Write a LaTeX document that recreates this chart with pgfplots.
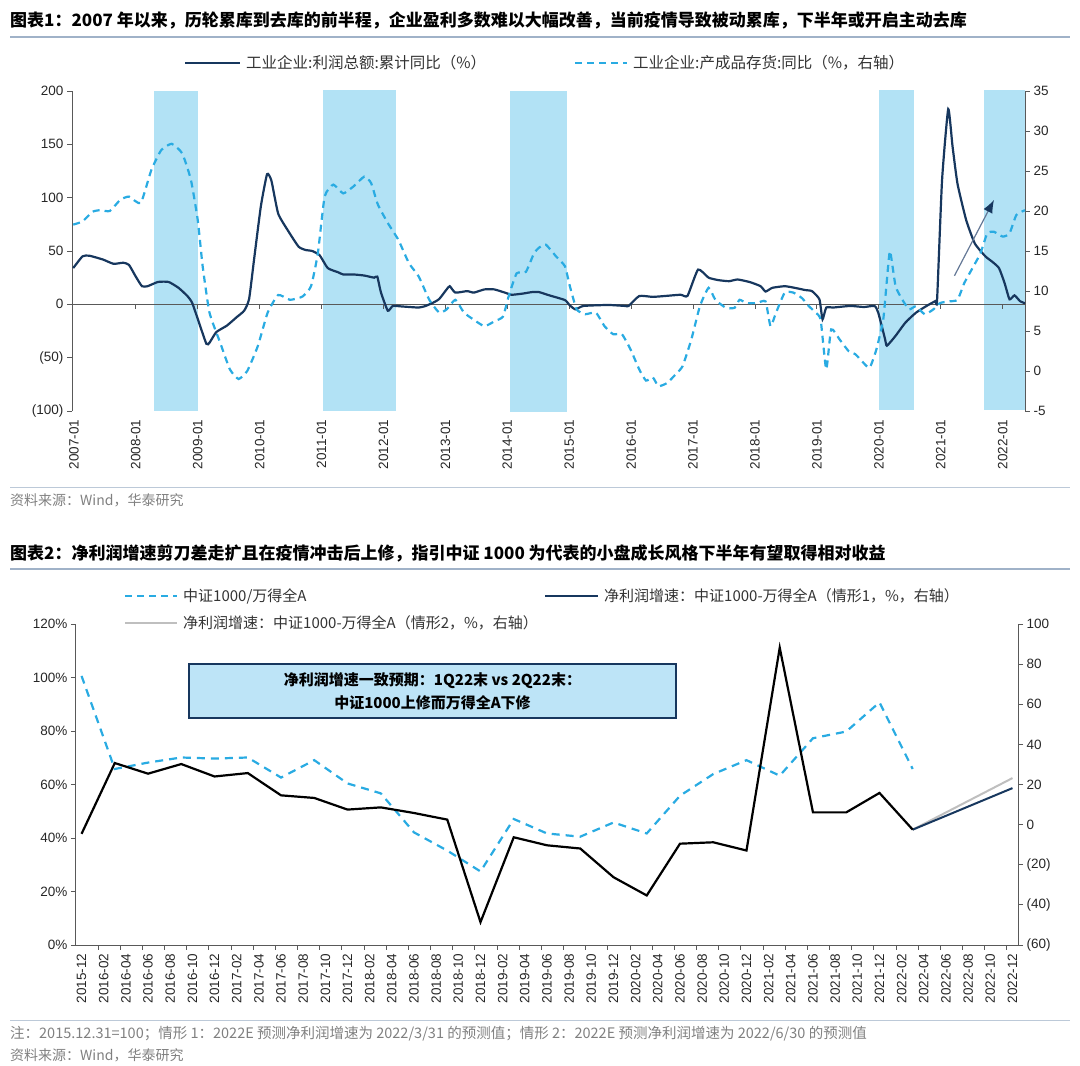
\documentclass[border=0pt]{standalone}
\usepackage{pgfplots}
\pgfplotsset{compat=1.18}
\usepackage{fontspec}
\setmainfont{Liberation Sans}
\newfontfamily\cjk{Noto Sans CJK SC}
\usetikzlibrary{arrows.meta}
\definecolor{navy}{RGB}{23,55,94}
\definecolor{cyanl}{RGB}{41,171,226}
\definecolor{band}{RGB}{178,226,245}
\definecolor{axgray}{RGB}{89,89,89}
\definecolor{rulec}{RGB}{160,178,200}
\definecolor{srcgray}{RGB}{128,128,128}
\definecolor{boxfill}{RGB}{189,228,247}
\definecolor{proj2}{RGB}{191,191,191}
\pgfplotsset{
  base/.style={scale only axis, no markers,
    axis line style={axgray, line width=1pt},
    tick style={axgray, line width=1pt},
    major tick length=5pt, tick align=outside,
    ticklabel style={font=\fontsize{13.5}{16}\selectfont, text=black!85},
  }
}
\pgfplotstableread{
x y
2006.99 34
2007.14 45
2007.25 45.6
2007.47 42
2007.64 38
2007.80 39
2007.89 37
2008.00 26
2008.10 17
2008.19 17
2008.36 21
2008.53 21
2008.69 15.5
2008.83 8
2008.91 1.5
2009.02 -17
2009.14 -37
2009.19 -36
2009.30 -26
2009.47 -20
2009.63 -12
2009.75 -6
2009.83 5
2009.91 42
2010.02 92
2010.12 122
2010.19 116
2010.30 85
2010.47 68
2010.63 54
2010.74 51
2010.85 50
2010.97 46
2011.10 34
2011.27 30
2011.35 28
2011.52 28
2011.69 27
2011.85 25
2011.90 26
2011.96 11
2012.07 -6
2012.15 -1.5
2012.30 -2
2012.57 -3
2012.68 -1.5
2012.80 1.5
2012.90 5
2013.02 14
2013.07 17
2013.16 11
2013.35 12.4
2013.46 11
2013.63 14
2013.79 14
2013.96 11
2014.07 9
2014.24 10
2014.40 11.5
2014.51 11.5
2014.68 8.4
2014.93 4
2015.01 -1
2015.10 -4.7
2015.23 -1.5
2015.63 -0.6
2015.90 -1.5
2015.96 -1.5
2016.13 7.8
2016.35 7
2016.58 8
2016.80 9
2016.91 8
2017.08 32.6
2017.25 25
2017.41 22.7
2017.58 21.7
2017.72 23.3
2017.92 20.8
2018.09 17
2018.17 12
2018.28 15.5
2018.48 17
2018.64 15.5
2018.81 13.4
2018.92 12.4
2019.04 4.7
2019.09 -14
2019.15 -3
2019.26 -3
2019.54 -1.5
2019.76 -2.5
2019.93 -1.5
2019.99 -7.8
2020.10 -32.6
2020.13 -38.8
2020.27 -29.5
2020.43 -17
2020.60 -7.8
2020.77 -1.5
2020.91 3
2020.94 4
2021.02 116
2021.12 183
2021.19 148
2021.27 113
2021.41 79
2021.55 57
2021.72 45
2021.83 40
2021.94 34
2022.03 20
2022.11 4.7
2022.19 8.4
2022.28 3
2022.36 1
}\profit
\pgfplotstableread{
x y
2006.99 18.3
2007.14 18.7
2007.30 19.9
2007.42 20.1
2007.58 20.0
2007.75 21.4
2007.89 21.8
2008.08 21.0
2008.25 25.1
2008.41 27.6
2008.58 28.4
2008.75 27.2
2008.89 23.9
2009.00 18.9
2009.08 13.1
2009.19 7.3
2009.36 3.6
2009.52 0.2
2009.66 -1.0
2009.80 0.0
2009.97 3.1
2010.13 7.3
2010.30 9.5
2010.49 8.9
2010.69 9.3
2010.83 10.6
2010.94 14.7
2011.05 21.8
2011.19 23.3
2011.35 22.2
2011.52 23.1
2011.69 24.3
2011.80 23.5
2011.91 20.8
2012.07 18.5
2012.24 16.4
2012.41 13.5
2012.57 11.8
2012.74 8.9
2012.90 7.3
2013.02 7.7
2013.16 8.9
2013.30 7.3
2013.46 6.4
2013.63 5.6
2013.79 6.2
2013.93 6.8
2014.02 9.3
2014.15 12.2
2014.30 12.4
2014.43 14.7
2014.51 15.4
2014.62 15.8
2014.79 14.3
2014.93 13.1
2015.01 10.6
2015.12 7.7
2015.26 7.1
2015.43 7.3
2015.57 5.6
2015.71 4.6
2015.85 4.6
2015.99 2.7
2016.13 0.2
2016.24 -1.2
2016.35 -0.8
2016.44 -1.9
2016.58 -1.5
2016.72 -0.4
2016.83 0.6
2016.97 3.9
2017.11 8.1
2017.25 10.4
2017.36 8.9
2017.53 7.9
2017.67 7.9
2017.75 8.9
2017.86 8.5
2018.03 8.5
2018.17 8.7
2018.25 5.6
2018.34 7.3
2018.48 9.8
2018.62 9.8
2018.76 9.1
2018.87 8.1
2018.98 7.3
2019.06 6.4
2019.15 0.2
2019.23 5.2
2019.37 3.9
2019.51 2.5
2019.62 2.1
2019.73 1.2
2019.85 0.4
2019.96 2.7
2020.07 6.4
2020.13 11.4
2020.18 15.0
2020.27 10.6
2020.38 8.9
2020.49 7.7
2020.60 8.1
2020.74 7.1
2020.88 7.7
2020.99 8.5
2021.13 8.7
2021.27 8.9
2021.38 11.0
2021.50 12.7
2021.64 14.7
2021.75 17.2
2021.86 17.4
2022.00 16.8
2022.11 17.2
2022.22 19.5
2022.36 20.1
}\inventory
\pgfplotstableread{
x y
0 100.6
3 65.8
6 68.2
9 70.1
12 69.7
15 70.1
18 62.6
21 69.1
24 60.4
27 56.7
30 42.1
33 35.3
36 27.5
39 47.1
42 41.7
45 40.5
48 45.8
51 41.7
54 55.8
57 63.9
60 69.1
63 63.3
66 77.3
69 79.8
72 90.7
75 65.8
}\ratio
\pgfplotstableread{
x y
0 -4.6
3 30.7
6 25.4
9 30.2
12 24.0
15 25.7
18 14.6
21 13.3
24 7.5
27 8.6
30 5.8
33 2.5
36 -48.6
39 -6.3
42 -10.3
45 -11.9
48 -26.2
51 -35.3
54 -9.5
57 -8.8
60 -12.9
63 88.2
66 6.1
69 6.1
72 15.8
75 -2.5
}\spread
\begin{document}
\begin{tikzpicture}
\path[use as bounding box] (0pt,0pt) rectangle (1080pt,-1066pt);
% ---------- Chart 1 texts ----------
\node[anchor=west, inner sep=0] at (10pt,-20pt) {\cjk\bfseries\fontsize{17}{20}\selectfont 图表1：2007 年以来，历轮累库到去库的前半程，企业盈利多数难以大幅改善，当前疫情导致被动累库，下半年或开启主动去库};
\draw[rulec, line width=1.3pt] (10pt,-37pt) -- (1070pt,-37pt);
\draw[navy, line width=2.5pt] (185pt,-63pt) -- (240pt,-63pt);
\node[anchor=west, inner sep=0, text=black!80] at (246pt,-63pt) {\cjk\fontsize{15.5}{18}\selectfont 工业企业:利润总额:累计同比（\%）};
\draw[cyanl, line width=2.5pt, dash pattern=on 7pt off 5pt] (575pt,-63pt) -- (627pt,-63pt);
\node[anchor=west, inner sep=0, text=black!80] at (633pt,-63pt) {\cjk\fontsize{15.5}{18}\selectfont 工业企业:产成品存货:同比（\%，右轴）};
\draw[rulec!70, line width=1pt] (10pt,-487pt) -- (1070pt,-487pt);
\node[anchor=west, inner sep=0, text=srcgray] at (10pt,-500pt) {\cjk\fontsize{14}{16}\selectfont 资料来源：Wind，华泰研究};
% ---------- Chart 1 left axis ----------
\begin{axis}[base, at={(72pt,-411pt)}, anchor=south west, width=953pt, height=320pt,
  xmin=2006.97, xmax=2022.36, ymin=-100, ymax=200, clip=false,
  axis y line*=left, axis x line*=bottom, x axis line style={draw=none},
  xtick={2007,2008,2009,2010,2011,2012,2013,2014,2015,2016,2017,2018,2019,2020,2021,2022},
  xticklabels={2007-01,2008-01,2009-01,2010-01,2011-01,2012-01,2013-01,2014-01,2015-01,2016-01,2017-01,2018-01,2019-01,2020-01,2021-01,2022-01},
  xtick style={draw=none},
  xticklabel style={rotate=90, anchor=east},
  ytick={-100,-50,0,50,100,150,200},
  yticklabels={(100),(50),0,50,100,150,200}]
\addplot[fill=band, draw=none] coordinates {(2008.29,-100) (2008.29,200) (2009.01,200) (2009.01,-100)};
\addplot[fill=band, draw=none] coordinates {(2011.02,-100) (2011.02,201) (2012.20,201) (2012.20,-100)};
\addplot[fill=band, draw=none] coordinates {(2014.05,-101) (2014.05,200) (2014.97,200) (2014.97,-101)};
\addplot[fill=band, draw=none] coordinates {(2020.00,-99) (2020.00,201) (2020.56,201) (2020.56,-99)};
\addplot[fill=band, draw=none] coordinates {(2021.69,-99) (2021.69,201) (2022.36,201) (2022.36,-99)};
\draw[axgray, line width=1pt] (axis cs:2006.97,0) -- (axis cs:2022.36,0);
\pgfplotsinvokeforeach{2008,2009,2010,2011,2012,2013,2014,2015,2016,2017,2018,2019,2020,2021,2022}{
  \draw[axgray, line width=1pt] (axis cs:#1,0) -- ++(0pt,-5pt);
}
\addplot[navy, line width=2.2pt, smooth, tension=0.3] table[x=x,y=y] {\profit};
\end{axis}
% ---------- Chart 1 right axis ----------
\begin{axis}[base, at={(72pt,-411pt)}, anchor=south west, width=953pt, height=320pt,
  xmin=2006.97, xmax=2022.36, ymin=-5, ymax=35, clip=false,
  axis y line*=right, axis x line=none,
  ytick={-5,0,5,10,15,20,25,30,35},
  yticklabels={-5,0,5,10,15,20,25,30,35}]
\addplot[cyanl, line width=2.2pt, dash pattern=on 7pt off 5pt, smooth, tension=0.3] table[x=x,y=y] {\inventory};
\draw[line width=1.2pt, color={rgb,255:red,100;green,120;blue,150}, -{Latex[length=13pt,width=10pt,color=navy]}] (axis cs:2021.22,11.9) -- (axis cs:2021.86,21.4);
\end{axis}
% ---------- Chart 2 texts ----------
\node[anchor=west, inner sep=0] at (10pt,-553pt) {\cjk\bfseries\fontsize{17}{20}\selectfont 图表2：净利润增速剪刀差走扩且在疫情冲击后上修，指引中证 1000 为代表的小盘成长风格下半年有望取得相对收益};
\draw[rulec, line width=1.3pt] (10pt,-569pt) -- (1070pt,-569pt);
\draw[cyanl, line width=2.5pt, dash pattern=on 7pt off 5pt] (125pt,-596pt) -- (177pt,-596pt);
\node[anchor=west, inner sep=0, text=black!80] at (183pt,-596pt) {\cjk\fontsize{15}{18}\selectfont 中证1000/万得全A};
\draw[navy, line width=2.5pt] (545pt,-596pt) -- (598pt,-596pt);
\node[anchor=west, inner sep=0, text=black!80] at (604pt,-596pt) {\cjk\fontsize{15}{18}\selectfont 净利润增速：中证1000-万得全A（情形1，\%，右轴）};
\draw[proj2, line width=2.5pt] (125pt,-623pt) -- (177pt,-623pt);
\node[anchor=west, inner sep=0, text=black!80] at (183pt,-623pt) {\cjk\fontsize{15}{18}\selectfont 净利润增速：中证1000-万得全A（情形2，\%，右轴）};
\draw[rulec!70, line width=1pt] (10pt,-1020pt) -- (1070pt,-1020pt);
\node[anchor=west, inner sep=0, text=srcgray] at (10pt,-1034pt) {\cjk\fontsize{14.5}{16}\selectfont 注：2015.12.31=100；情形 1：2022E 预测净利润增速为 2022/3/31 的预测值；情形 2：2022E 预测净利润增速为 2022/6/30 的预测值};
\node[anchor=west, inner sep=0, text=srcgray] at (10pt,-1055pt) {\cjk\fontsize{14}{16}\selectfont 资料来源：Wind，华泰研究};
% ---------- Chart 2 left axis ----------
\begin{axis}[base, at={(76pt,-945pt)}, anchor=south west, width=942pt, height=321pt,
  xmin=-0.5, xmax=84.5, ymin=0, ymax=120, clip=false,
  axis y line*=left, axis x line*=bottom,
  xtick={0,2,...,84},
  xticklabels={2015-12,2016-02,2016-04,2016-06,2016-08,2016-10,2016-12,2017-02,2017-04,2017-06,2017-08,2017-10,2017-12,2018-02,2018-04,2018-06,2018-08,2018-10,2018-12,2019-02,2019-04,2019-06,2019-08,2019-10,2019-12,2020-02,2020-04,2020-06,2020-08,2020-10,2020-12,2021-02,2021-04,2021-06,2021-08,2021-10,2021-12,2022-02,2022-04,2022-06,2022-08,2022-10,2022-12},
  xtick style={draw=none},
  xticklabel style={rotate=90, anchor=east},
  ytick={0,20,40,60,80,100,120},
  yticklabels={0\%,20\%,40\%,60\%,80\%,100\%,120\%}]
\pgfplotsinvokeforeach{1.5,3.5,...,83.5}{
  \draw[axgray, line width=1pt] (axis cs:#1,0) -- ++(0pt,-5pt);
}
\addplot[cyanl, line width=2.2pt, dash pattern=on 8pt off 6pt] table[x=x,y=y] {\ratio};
\end{axis}
% ---------- Chart 2 right axis ----------
\begin{axis}[base, at={(76pt,-945pt)}, anchor=south west, width=942pt, height=321pt,
  xmin=-0.5, xmax=84.5, ymin=-60, ymax=100, clip=false,
  axis y line*=right, axis x line=none,
  ytick={-60,-40,-20,0,20,40,60,80,100},
  yticklabels={(60),(40),(20),0,20,40,60,80,100}]
\addplot[proj2, line width=2pt] coordinates {(75,-2.5) (84,23.2)};
\addplot[navy, line width=2pt] coordinates {(75,-2.5) (84,18.2)};
\addplot[black, line width=2.2pt] table[x=x,y=y] {\spread};
\end{axis}
\node[draw=navy, line width=2pt, fill=boxfill, minimum width=487pt, minimum height=54pt, align=center, inner sep=0, font=\cjk\bfseries\fontsize{15}{18}\selectfont] at (432.5pt,-691pt) {净利润增速一致预期：1Q22末 vs 2Q22末：\\[5pt]中证1000上修而万得全A下修};
\end{tikzpicture}
\end{document}
